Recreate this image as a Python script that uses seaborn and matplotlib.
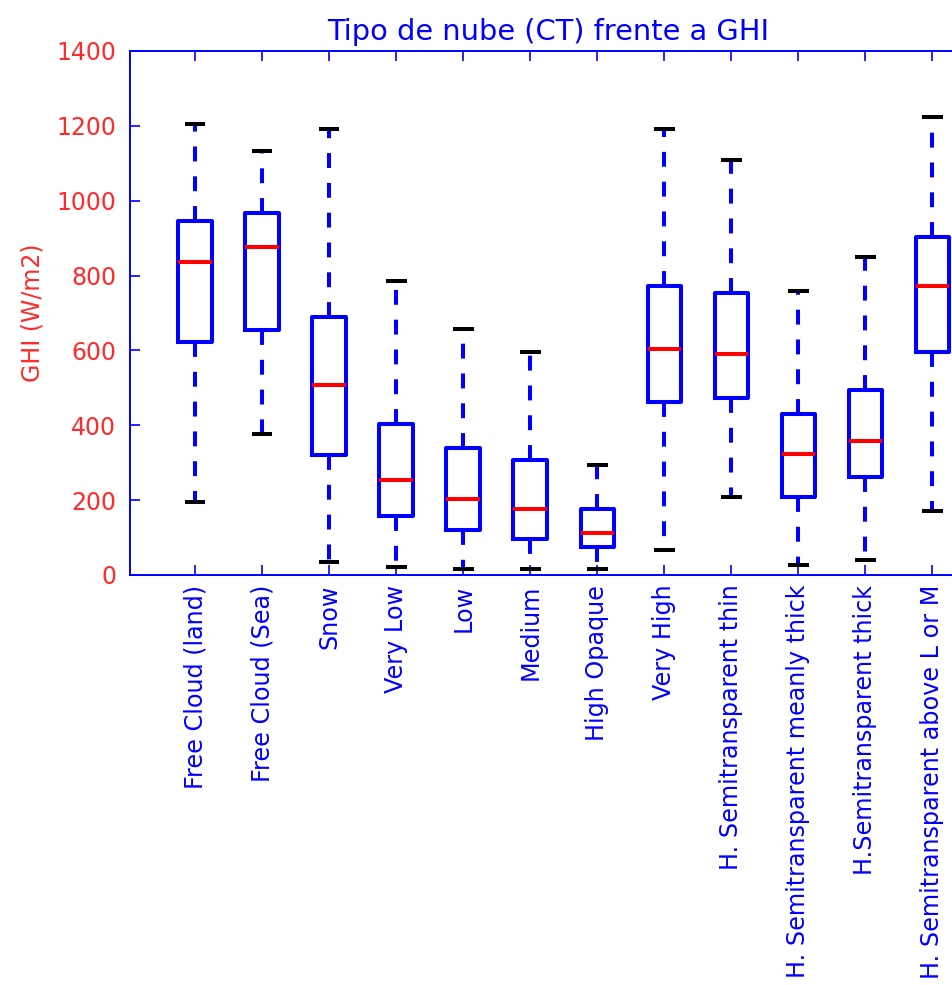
import matplotlib
matplotlib.use("Agg")
import matplotlib.pyplot as plt
import seaborn as sns
import pandas as pd

categories = [
    "Free Cloud (land)", "Free Cloud (Sea)", "Snow", "Very Low", "Low", "Medium",
    "High Opaque", "Very High", "H. Semitransparent thin",
    "H. Semitransparent meanly thick", "H.Semitransparent thick",
    "H. Semitransparent above L or M",
]
whisker_low = [196, 378, 35, 21, 16, 15, 15, 67, 209, 27, 41, 171]
q1 = [622, 655, 320, 157, 120, 95, 75, 462, 474, 209, 262, 597]
median = [836, 876, 507, 253, 202, 176, 113, 604, 591, 324, 357, 772]
q3 = [947, 966, 690, 404, 340, 307, 176, 773, 754, 429, 495, 902]
whisker_high = [1205, 1134, 1192, 785, 656, 597, 293, 1192, 1108, 760, 849, 1225]
y_ticks = [0, 200, 400, 600, 800, 1000, 1200, 1400]

rows = []
for i, c in enumerate(categories):
    for v in (whisker_low[i], q1[i], median[i], q3[i], whisker_high[i]):
        rows.append({"CT": c, "GHI": v})
df = pd.DataFrame(rows)

plt.rcParams["font.family"] = ["DejaVu Sans"]

fig = plt.figure(figsize=(9.53, 9.85), dpi=100)
ax = fig.add_axes([130 / 953, 410 / 985, 836 / 953, 524 / 985])

lw = 2.9
sns.boxplot(
    data=df, x="CT", y="GHI", order=categories, ax=ax,
    fill=False, width=0.5, whis=(0, 100), color="blue", linewidth=lw,
    boxprops=dict(color="blue", linewidth=lw),
    medianprops=dict(color="red", linewidth=lw),
    whiskerprops=dict(color="blue", linewidth=lw, linestyle=(0, (3.7, 3.7))),
    capprops=dict(color="black", linewidth=lw),
    showfliers=False,
)

ax.set_xlim(-0.97, 11.5)
ax.set_ylim(0, 1400)
ax.set_yticks(y_ticks)
ax.set_yticklabels([str(t) for t in y_ticks])
ax.set_xticks(range(len(categories)))
ax.set_xticklabels(categories, rotation=90)

for sp in ax.spines.values():
    sp.set_color("blue")
    sp.set_linewidth(1.4)

ax.tick_params(axis="both", direction="in", length=7, width=1.2, color="blue",
               top=True, right=True)
ax.tick_params(axis="y", labelcolor="#ff2a2a", labelsize=17, pad=10)
ax.tick_params(axis="x", labelcolor="blue", labelsize=17.2, pad=7)

ax.set_xlabel("")
ax.set_ylabel("GHI (W/m2)", color="#ff2a2a", fontsize=17, labelpad=8.5)
ax.set_title("Tipo de nube (CT) frente a GHI", color="blue", fontsize=20.8, pad=8)

fig.savefig("out.png", dpi=100)
